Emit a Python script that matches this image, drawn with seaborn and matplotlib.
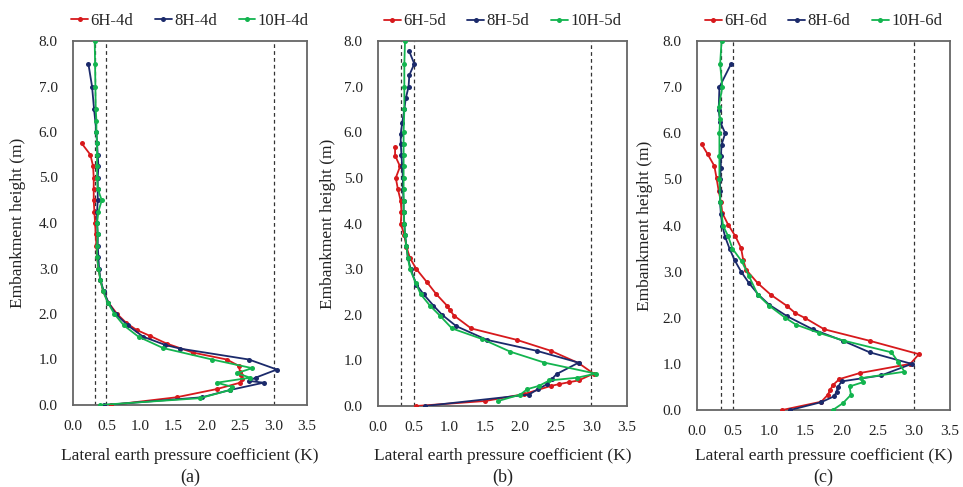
"""
Embankment height vs lateral earth pressure coefficient, three panels (4d, 5d, 6d)
"""

import numpy as np
import pandas as pd
import matplotlib
matplotlib.use('Agg')
import matplotlib.pyplot as plt
import seaborn as sns

# ---- panel (a): 4d ----
h_6h4d = [0, 0.17, 0.35, 0.49, 0.58, 0.65, 0.72, 0.86, 1.0, 1.15, 1.35, 1.52, 1.65, 1.8, 2.0,
          2.25, 2.5, 2.75, 3.0, 3.25, 3.5, 3.75, 4.0, 4.25, 4.5, 4.75, 5.0, 5.25, 5.5, 5.75]
k_6h4d = [0.57, 1.55, 2.15, 2.5, 2.53, 2.52, 2.5, 2.48, 2.3, 1.8, 1.4, 1.15, 0.95, 0.8, 0.66,
          0.53, 0.45, 0.41, 0.38, 0.36, 0.35, 0.34, 0.33, 0.32, 0.31, 0.31, 0.31, 0.30, 0.26, 0.13]

h_8h4d = [0, 0.17, 0.33, 0.49, 0.53, 0.6, 0.78, 1.0, 1.24, 1.32, 1.5, 1.75, 2.0, 2.25, 2.5, 2.75,
          3.0, 3.25, 3.5, 3.75, 4.0, 4.25, 4.5, 4.75, 5.0, 5.25, 5.5, 5.75, 6.0, 6.5, 7.0, 7.5]
k_8h4d = [0.47, 1.93, 2.35, 2.85, 2.63, 2.73, 3.05, 2.63, 1.6, 1.38, 1.05, 0.82, 0.64, 0.53, 0.46, 0.41,
          0.39, 0.38, 0.37, 0.37, 0.36, 0.36, 0.37, 0.37, 0.37, 0.38, 0.37, 0.36, 0.35, 0.315, 0.285, 0.23]

h_10h4d = [0, 0.15, 0.33, 0.4, 0.49, 0.6, 0.7, 0.81, 1.0, 1.25, 1.5, 1.75, 2.0, 2.25, 2.5, 2.75, 3.0,
           3.25, 3.5, 3.75, 4.0, 4.25, 4.5, 4.75, 5.0, 5.25, 5.5, 5.75, 6.0, 6.25, 6.5, 7.0, 7.5, 8.0]
k_10h4d = [0.4, 1.9, 2.35, 2.38, 2.15, 2.65, 2.45, 2.68, 2.08, 1.35, 0.98, 0.76, 0.62, 0.52, 0.45, 0.41, 0.38,
           0.36, 0.36, 0.37, 0.36, 0.38, 0.43, 0.37, 0.36, 0.36, 0.36, 0.36, 0.35, 0.35, 0.34, 0.335, 0.33, 0.325]

# ---- panel (b): 5d ----
h_6h5d = [0, 0.11, 0.26, 0.44, 0.48, 0.52, 0.56, 0.71, 0.94, 1.21, 1.45, 1.70, 1.98, 2.1, 2.2,
          2.45, 2.71, 3.0, 3.24, 3.49, 3.74, 4.0, 4.25, 4.49, 4.75, 5.0, 5.25, 5.49, 5.68]
k_6h5d = [0.54, 1.51, 2.05, 2.43, 2.55, 2.68, 2.82, 3.03, 2.82, 2.43, 1.95, 1.31, 1.07, 1.01, 0.97,
          0.82, 0.69, 0.54, 0.45, 0.40, 0.37, 0.32, 0.33, 0.32, 0.28, 0.25, 0.31, 0.24, 0.24]

h_8h5d = [0, 0.25, 0.37, 0.48, 0.6, 0.70, 0.95, 1.21, 1.45, 1.75, 2.0, 2.2, 2.45, 2.66, 3.0, 3.25, 3.5,
          3.75, 4.0, 4.25, 4.5, 4.75, 5.0, 5.25, 5.5, 5.75, 5.97, 6.2, 6.5, 6.74, 7.0, 7.25, 7.5, 7.77]
k_8h5d = [0.66, 2.12, 2.25, 2.38, 2.45, 2.51, 2.82, 2.23, 1.53, 1.1, 0.9, 0.78, 0.64, 0.54, 0.46, 0.42, 0.40,
          0.38, 0.37, 0.36, 0.36, 0.35, 0.35, 0.34, 0.33, 0.32, 0.32, 0.34, 0.37, 0.39, 0.43, 0.44, 0.51, 0.44]

h_10h5d = [0.11, 0.25, 0.37, 0.44, 0.56, 0.62, 0.71, 0.95, 1.19, 1.47, 1.70, 1.98, 2.2, 2.45, 2.7, 3.0,
           3.25, 3.5, 3.75, 4.0, 4.25, 4.5, 4.75, 5.0, 5.25, 5.5, 5.75, 6.0, 6.5, 7.0, 7.5, 8.0]
k_10h5d = [1.69, 2.0, 2.1, 2.26, 2.41, 2.8, 3.06, 2.34, 1.86, 1.46, 1.04, 0.87, 0.73, 0.6, 0.53, 0.45,
           0.42, 0.40, 0.38, 0.37, 0.36, 0.36, 0.36, 0.36, 0.36, 0.36, 0.36, 0.36, 0.37, 0.37, 0.37, 0.38]

# ---- panel (c): 6d ----
h_6h6d = [0, 0.18, 0.33, 0.43, 0.54, 0.67, 0.80, 1.0, 1.21, 1.5, 1.75, 1.99, 2.1, 2.25, 2.5, 2.75,
          3.04, 3.25, 3.51, 3.77, 4.02, 4.27, 4.52, 4.75, 5.03, 5.29, 5.54, 5.76]
k_6h6d = [1.18, 1.72, 1.81, 1.84, 1.88, 1.97, 2.25, 2.95, 3.07, 2.39, 1.76, 1.5, 1.36, 1.25, 1.02, 0.84,
          0.68, 0.64, 0.61, 0.53, 0.43, 0.35, 0.33, 0.3, 0.27, 0.24, 0.15, 0.065]

h_8h6d = [0, 0.17, 0.3, 0.4, 0.5, 0.62, 0.75, 1.0, 1.25, 1.5, 1.75, 2.03, 2.28, 2.5, 2.75, 3.0,
          3.25, 3.5, 3.75, 4.0, 4.25, 4.5, 4.75, 5.0, 5.25, 5.5, 5.75, 6.0, 6.25, 6.5, 7.0, 7.5]
k_8h6d = [1.29, 1.72, 1.9, 1.93, 1.95, 2.0, 2.55, 2.97, 2.39, 2.02, 1.6, 1.25, 1.0, 0.85, 0.72, 0.61,
          0.52, 0.45, 0.39, 0.35, 0.33, 0.32, 0.32, 0.32, 0.33, 0.33, 0.34, 0.39, 0.32, 0.30, 0.31, 0.47]

h_10h6d = [0, 0.15, 0.33, 0.51, 0.6, 0.69, 0.83, 1.05, 1.25, 1.5, 1.67, 1.85, 2.0, 2.26, 2.5, 2.9,
           3.22, 3.5, 3.77, 4.0, 4.5, 5.0, 5.5, 6.0, 6.3, 6.56, 7.0, 7.5, 8.0]
k_10h6d = [1.88, 2.02, 2.13, 2.11, 2.29, 2.27, 2.87, 2.78, 2.69, 2.04, 1.69, 1.37, 1.22, 1.0, 0.84, 0.72,
           0.62, 0.49, 0.43, 0.36, 0.32, 0.31, 0.31, 0.31, 0.32, 0.30, 0.35, 0.32, 0.34]

ref_k = [0.33, 0.5, 3.0]   # vertical dashed reference lines
x_ticks = np.arange(0, 3.51, 0.5)
y_ticks = np.arange(0, 8.01, 1.0)
colors = ['#D7191C', '#1B2A6B', '#13B44F']

panels = [
    ('(a)', ['6H-4d', '8H-4d', '10H-4d'], [(k_6h4d, h_6h4d), (k_8h4d, h_8h4d), (k_10h4d, h_10h4d)]),
    ('(b)', ['6H-5d', '8H-5d', '10H-5d'], [(k_6h5d, h_6h5d), (k_8h5d, h_8h5d), (k_10h5d, h_10h5d)]),
    ('(c)', ['6H-6d', '8H-6d', '10H-6d'], [(k_6h6d, h_6h6d), (k_8h6d, h_8h6d), (k_10h6d, h_10h6d)]),
]
W, H = 963, 487
# axes boxes in pixels: left, right, top, bottom ; y-label offset from left spine
boxes = [(73, 307, 41, 405, 55), (378, 627, 41, 406, 50), (697, 950, 41, 410, 52)]

sns.set_style('white')
plt.rcParams['font.family'] = ['Liberation Serif', 'DejaVu Serif']

fig = plt.figure(figsize=(W / 100, H / 100), dpi=100)

for (tag, names, series), (l, r, t, b, yoff) in zip(panels, boxes):
    ax = fig.add_axes([l / W, 1 - b / H, (r - l) / W, (b - t) / H])
    aw, ah = r - l, b - t
    for xv in ref_k:
        ax.axvline(xv, color='#333333', linestyle=(0, (3, 2.5)), linewidth=0.9, zorder=1)
    for name, (kk, hh), c in zip(names, series, colors):
        df = pd.DataFrame({'K': kk, 'h': hh})
        sns.lineplot(data=df, x='K', y='h', sort=False, estimator=None, ax=ax,
                     color=c, linewidth=1.3, marker='o', markersize=3.6,
                     markeredgewidth=0, label=name, zorder=3)
    ax.set_xlim(0, 3.5)
    ax.set_ylim(0, 8.0)
    ax.set_xticks(x_ticks)
    ax.set_yticks(y_ticks)
    ax.set_xticklabels([f'{v:.1f}' for v in x_ticks])
    ax.set_yticklabels([f'{v:.1f}' for v in y_ticks])
    ax.tick_params(direction='in', length=4, width=1, color='#555555',
                   labelsize=11, pad=11, labelcolor='#222222')
    for sp in ax.spines.values():
        sp.set_color('#666666')
        sp.set_linewidth(1.3)

    ax.set_xlabel('Lateral earth pressure coefficient (K)', fontsize=12.5, color='#222222')
    ax.xaxis.set_label_coords(0.5, -(456 - b) / ah * -1 if False else -(456 - b) / ah)
    ax.xaxis.label.set_va('center')
    ax.set_ylabel('Embankment height (m)', fontsize=12.5, color='#222222')
    ax.yaxis.set_label_coords(-yoff / aw, 0.5)
    ax.yaxis.label.set(va='center', ha='center')

    ax.legend(loc='lower center', bbox_to_anchor=(0.5, 1.0), ncol=3, frameon=False,
              fontsize=12, handlelength=1.0, handletextpad=0.15, columnspacing=1.3,
              borderaxespad=0.3)
    ax.text(0.5, -(477 - b) / ah, tag, transform=ax.transAxes, ha='center', va='center',
            fontsize=13, color='#222222')

plt.savefig('out.png', dpi=100)
plt.close('all')
